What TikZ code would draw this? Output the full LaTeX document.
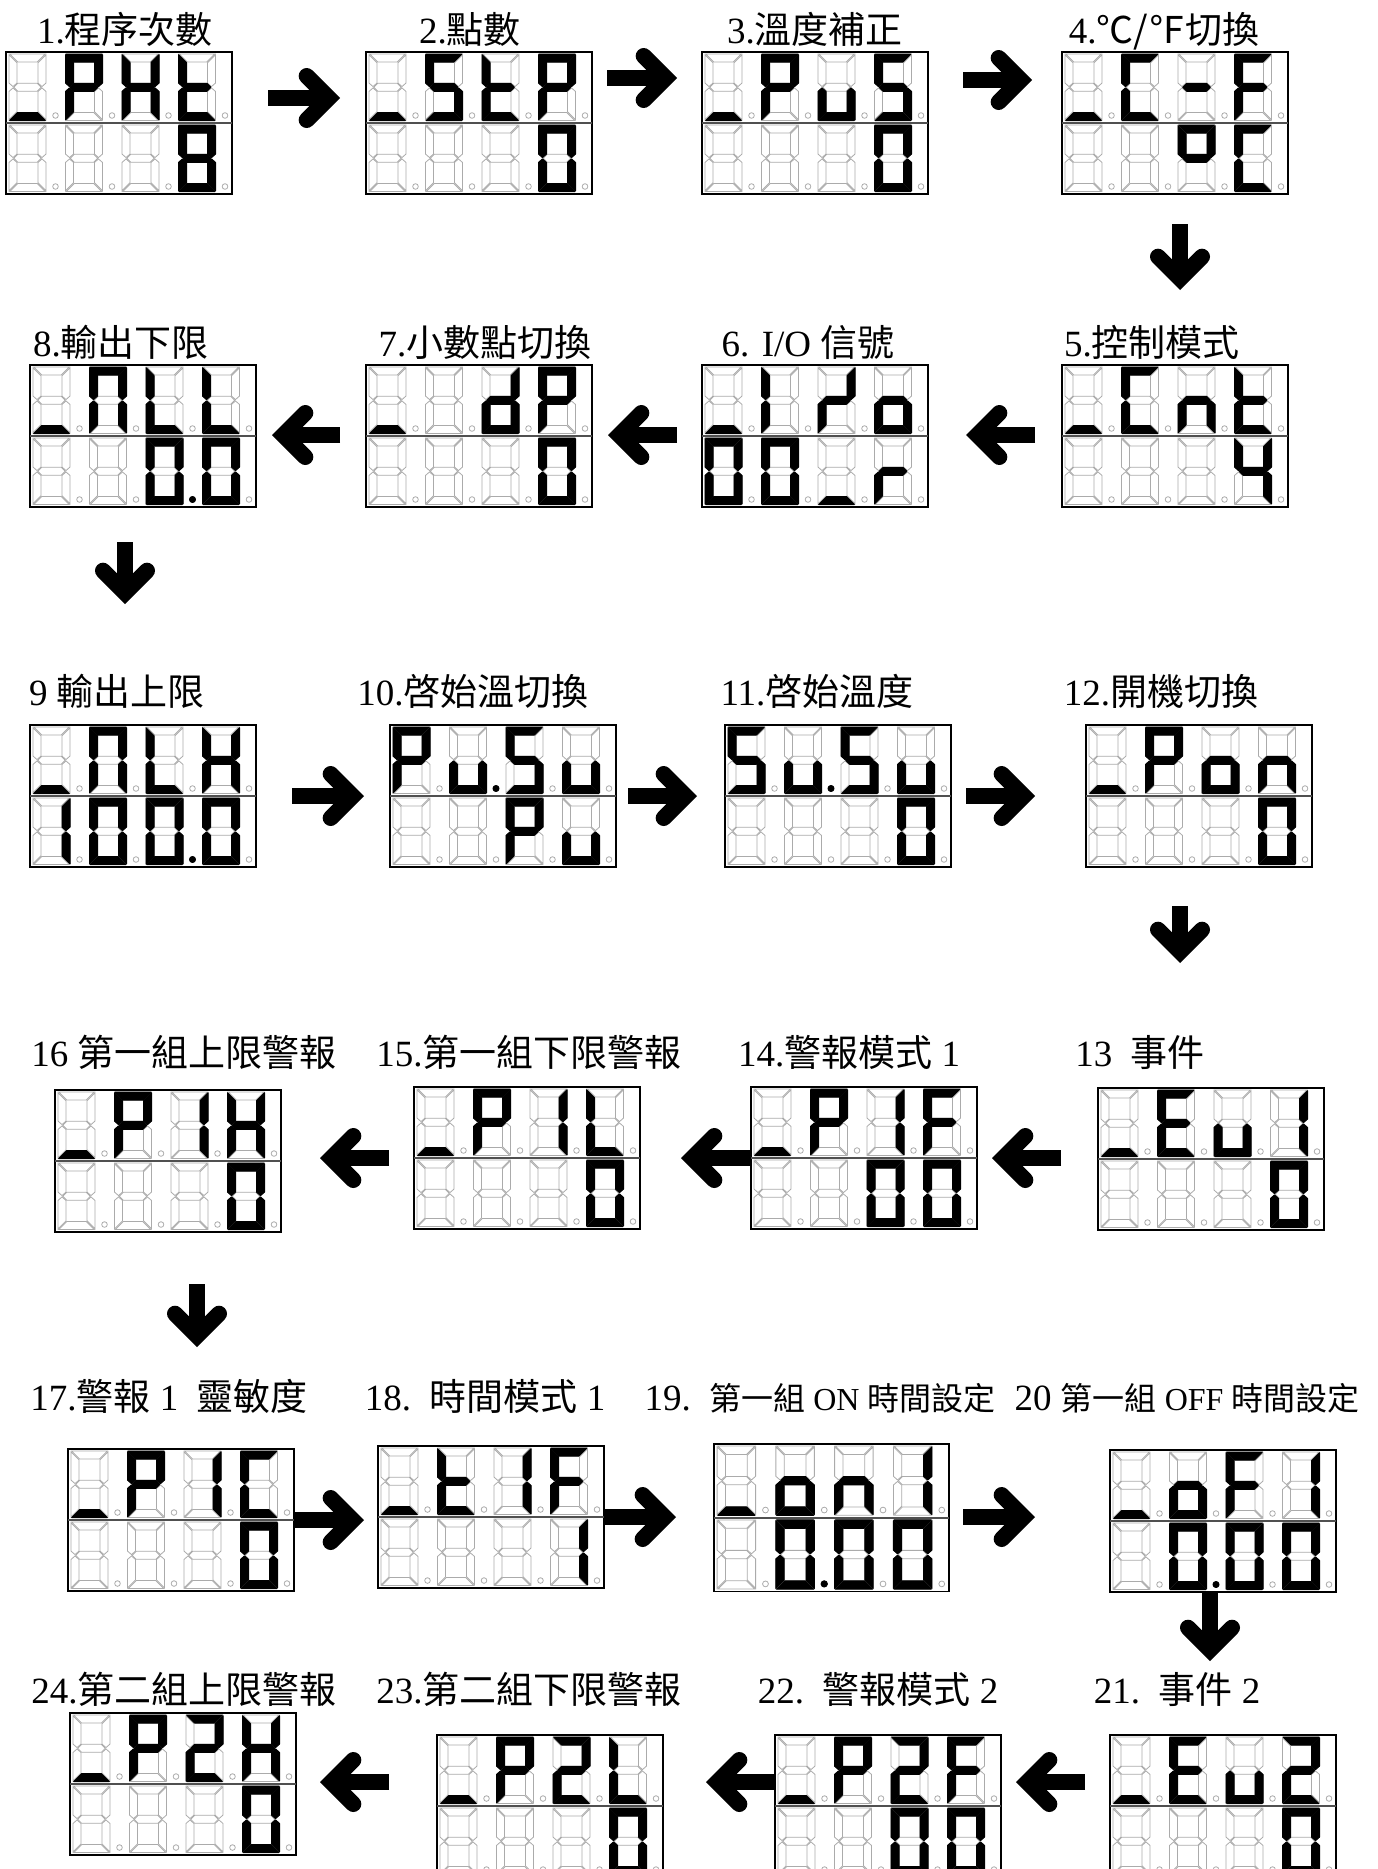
\documentclass[tikz,border=0pt]{standalone}
\usepackage{fontspec}
\setmainfont{Liberation Serif}
\newfontfamily\cjk{Noto Sans CJK TC}
\usepackage{tikz}
\usetikzlibrary{arrows.meta, positioning}
\definecolor{lcdGray}{HTML}{ABABAB}
\definecolor{lcdRule}{HTML}{505050}

% one digit cell is 56.5 x 71 units
\def\sega{(3.7,2) -- (39.3,2) -- (31.3,10) -- (11.7,10) -- cycle}
\def\segd{(3.7,68.5) -- (39.3,68.5) -- (31.3,60.5) -- (11.7,60.5) -- cycle}
\def\segg{(7.7,35.25) -- (11.7,31.25) -- (31.3,31.25) -- (35.3,35.25) -- (31.3,39.25) -- (11.7,39.25) -- cycle}
\def\segf{(3,2.7) -- (11,10.7) -- (11,31.05) -- (7,34.55) -- (3,31.05) -- cycle}
\def\sege{(3,67.8) -- (11,59.8) -- (11,39.45) -- (7,35.95) -- (3,39.45) -- cycle}
\def\segb{(40,2.7) -- (32,10.7) -- (32,31.05) -- (36,34.55) -- (40,31.05) -- cycle}
\def\segc{(40,67.8) -- (32,59.8) -- (32,39.45) -- (36,35.95) -- (40,39.45) -- cycle}
\def\segp{(49.5,63.5) circle (3)}
\def\segx{}

% lit segments per character
\def\dgB{x}
\def\dgUnd{d}
\def\dgP{a,b,e,f,g}
\def\dgZero{a,b,c,d,e,f}
\def\dgZeroDot{a,b,c,d,e,f,p}
\def\dgS{a,c,d,f,g}
\def\dgt{d,e,f,g}
\def\dgu{c,d,e}
\def\dguDot{c,d,e,p}
\def\dgC{a,d,e,f}
\def\dgF{a,e,f,g}
\def\dgE{a,d,e,f,g}
\def\dgH{b,c,e,f,g}
\def\dgL{d,e,f}
\def\dgN{a,b,c,e,f}
\def\dgn{c,e,g}
\def\dgo{c,d,e,g}
\def\dgr{e,g}
\def\dgd{b,c,d,e,g}
\def\dgI{e,f}
\def\dgZed{b,e,g}
\def\dgDash{g}
\def\dgDeg{a,b,f,g}
\def\dgOne{b,c}
\def\dgTwo{a,b,d,e,g}
\def\dgFour{b,c,f,g}
\def\dgEight{a,b,c,d,e,f,g}

\newcommand\lcddigit[3]{%
  \begin{scope}[shift={(#1,#2)}]
    \foreach \s in {a,b,c,d,e,f,g}{\expandafter\let\expandafter\segcur\csname seg\s\endcsname
      \draw[segoff] \segcur;}
    \draw[segoff] (49.5,63.5) circle (2.8);
    \foreach \s in #3 {\expandafter\let\expandafter\segcur\csname seg\s\endcsname
      \filldraw[segon] \segcur;}
  \end{scope}}
\newcommand\lcdpanel[4][1]{%
  \def\lcdscale{#1}%
  \node[panel, minimum width=#1*113pt, minimum height=#1*71pt] (#2) at (#3,#4) {};
  \draw[divider] (#2.west) -- (#2.east);}
\newcommand\lcdrow[6]{%
  \begin{scope}[shift={(#1.north west)}, scale=\lcdscale]
    \lcddigit{0}{#2*71}{#3}\lcddigit{56.5}{#2*71}{#4}%
    \lcddigit{113}{#2*71}{#5}\lcddigit{169.5}{#2*71}{#6}
  \end{scope}}

\begin{document}
\begin{tikzpicture}[
  x=0.5pt, y=-0.5pt,
  panel/.style={draw, line width=0.75pt, anchor=north west, inner sep=0pt, outer sep=0pt},
  divider/.style={draw=lcdRule, line width=1.2pt},
  segoff/.style={draw=lcdGray, line width=0.4pt},
  segon/.style={fill=black, draw=black, line width=0.5pt, line join=round},
  caption/.style={font=\fontsize{18.5}{22}\selectfont, anchor=base, inner sep=0pt},
  fatarrow/.style={line width=8pt,
    -{Straight Barb[length=11pt, width=22pt, line cap=round, line join=miter]}},
]
  \useasboundingbox (0,0) rectangle (1377,1869);
  \clip (0,0) rectangle (1377,1869);

  % row 1
  \lcdpanel{p1}{6}{52}
  \lcdrow{p1}{0}{\dgUnd}{\dgP}{\dgH}{\dgt}
  \lcdrow{p1}{1}{\dgB}{\dgB}{\dgB}{\dgEight}
  \lcdpanel{p2}{366}{52}
  \lcdrow{p2}{0}{\dgUnd}{\dgS}{\dgt}{\dgP}
  \lcdrow{p2}{1}{\dgB}{\dgB}{\dgB}{\dgZero}
  \lcdpanel{p3}{702}{52}
  \lcdrow{p3}{0}{\dgUnd}{\dgP}{\dgu}{\dgS}
  \lcdrow{p3}{1}{\dgB}{\dgB}{\dgB}{\dgZero}
  \lcdpanel{p4}{1062}{52}
  \lcdrow{p4}{0}{\dgUnd}{\dgC}{\dgDash}{\dgF}
  \lcdrow{p4}{1}{\dgB}{\dgB}{\dgDeg}{\dgC}

  % row 2
  \lcdpanel{p8}{30}{365}
  \lcdrow{p8}{0}{\dgUnd}{\dgN}{\dgL}{\dgL}
  \lcdrow{p8}{1}{\dgB}{\dgB}{\dgZeroDot}{\dgZero}
  \lcdpanel{p7}{366}{365}
  \lcdrow{p7}{0}{\dgUnd}{\dgB}{\dgd}{\dgP}
  \lcdrow{p7}{1}{\dgB}{\dgB}{\dgB}{\dgZero}
  \lcdpanel{p6}{702}{365}
  \lcdrow{p6}{0}{\dgUnd}{\dgI}{\dgZed}{\dgo}
  \lcdrow{p6}{1}{\dgZero}{\dgZero}{\dgUnd}{\dgr}
  \lcdpanel{p5}{1062}{365}
  \lcdrow{p5}{0}{\dgUnd}{\dgC}{\dgn}{\dgt}
  \lcdrow{p5}{1}{\dgB}{\dgB}{\dgB}{\dgFour}

  % row 3
  \lcdpanel{p9}{30}{725}
  \lcdrow{p9}{0}{\dgUnd}{\dgN}{\dgL}{\dgH}
  \lcdrow{p9}{1}{\dgOne}{\dgZero}{\dgZeroDot}{\dgZero}
  \lcdpanel{p10}{390}{725}
  \lcdrow{p10}{0}{\dgP}{\dguDot}{\dgS}{\dgu}
  \lcdrow{p10}{1}{\dgB}{\dgB}{\dgP}{\dgu}
  \lcdpanel{p11}{725}{725}
  \lcdrow{p11}{0}{\dgS}{\dguDot}{\dgS}{\dgu}
  \lcdrow{p11}{1}{\dgB}{\dgB}{\dgB}{\dgZero}
  \lcdpanel{p12}{1086}{725}
  \lcdrow{p12}{0}{\dgUnd}{\dgP}{\dgo}{\dgn}
  \lcdrow{p12}{1}{\dgB}{\dgB}{\dgB}{\dgZero}

  % row 4
  \lcdpanel{p16}{55}{1090}
  \lcdrow{p16}{0}{\dgUnd}{\dgP}{\dgOne}{\dgH}
  \lcdrow{p16}{1}{\dgB}{\dgB}{\dgB}{\dgZero}
  \lcdpanel{p15}{414}{1087}
  \lcdrow{p15}{0}{\dgUnd}{\dgP}{\dgOne}{\dgL}
  \lcdrow{p15}{1}{\dgB}{\dgB}{\dgB}{\dgZero}
  \lcdpanel{p14}{751}{1087}
  \lcdrow{p14}{0}{\dgUnd}{\dgP}{\dgOne}{\dgF}
  \lcdrow{p14}{1}{\dgB}{\dgB}{\dgZero}{\dgZero}
  \lcdpanel{p13}{1098}{1088}
  \lcdrow{p13}{0}{\dgUnd}{\dgE}{\dgu}{\dgOne}
  \lcdrow{p13}{1}{\dgB}{\dgB}{\dgB}{\dgZero}

  % row 5
  \lcdpanel{p17}{68}{1449}
  \lcdrow{p17}{0}{\dgUnd}{\dgP}{\dgOne}{\dgC}
  \lcdrow{p17}{1}{\dgB}{\dgB}{\dgB}{\dgZero}
  \lcdpanel{p18}{378}{1446}
  \lcdrow{p18}{0}{\dgUnd}{\dgt}{\dgOne}{\dgF}
  \lcdrow{p18}{1}{\dgB}{\dgB}{\dgB}{\dgOne}
  \lcdpanel[1.04]{p19}{714}{1444}
  \lcdrow{p19}{0}{\dgUnd}{\dgo}{\dgn}{\dgOne}
  \lcdrow{p19}{1}{\dgB}{\dgZeroDot}{\dgZero}{\dgZero}
  \lcdpanel{p20}{1110}{1450}
  \lcdrow{p20}{0}{\dgUnd}{\dgo}{\dgF}{\dgOne}
  \lcdrow{p20}{1}{\dgB}{\dgZeroDot}{\dgZero}{\dgZero}

  % row 6
  \lcdpanel{p24}{70}{1713}
  \lcdrow{p24}{0}{\dgUnd}{\dgP}{\dgTwo}{\dgH}
  \lcdrow{p24}{1}{\dgB}{\dgB}{\dgB}{\dgZero}
  \lcdpanel{p23}{437}{1735}
  \lcdrow{p23}{0}{\dgUnd}{\dgP}{\dgTwo}{\dgL}
  \lcdrow{p23}{1}{\dgB}{\dgB}{\dgB}{\dgZero}
  \lcdpanel{p22}{775}{1735}
  \lcdrow{p22}{0}{\dgUnd}{\dgP}{\dgTwo}{\dgF}
  \lcdrow{p22}{1}{\dgB}{\dgB}{\dgZero}{\dgZero}
  \lcdpanel{p21}{1110}{1735}
  \lcdrow{p21}{0}{\dgUnd}{\dgE}{\dgu}{\dgTwo}
  \lcdrow{p21}{1}{\dgB}{\dgB}{\dgB}{\dgZero}

  % captions
  \node[caption] (l1) at (125,43) {1.{\cjk 程序次數}};
  \node[caption] (l2) at (470,43) {2.{\cjk 點數}};
  \node[caption] (l3) at (815,43) {3.{\cjk 溫度補正}};
  \node[caption] (l4) at (1164,43) {4.{\cjk ℃/℉切換}};
  \node[caption] (l8) at (121,356) {8.{\cjk 輸出下限}};
  \node[caption] (l7) at (485,356) {7.{\cjk 小數點切換}};
  \node[caption] (l6) at (808,356) {6. I/O {\cjk 信號}};
  \node[caption] (l5) at (1152,356) {5.{\cjk 控制模式}};
  \node[caption] (l9) at (117,705) {9 {\cjk 輸出上限}};
  \node[caption] (l10) at (473,705) {10.{\cjk 啓始溫切換}};
  \node[caption] (l11) at (817,705) {11.{\cjk 啓始溫度}};
  \node[caption] (l12) at (1161,705) {12.{\cjk 開機切換}};
  \node[caption] (l16) at (184,1066) {16 {\cjk 第一組上限警報}};
  \node[caption] (l15) at (529,1066) {15.{\cjk 第一組下限警報}};
  \node[caption] (l14) at (849,1066) {14.{\cjk 警報模式} 1};
  \node[caption] (l13) at (1140,1066) {13\ \ {\cjk 事件}};
  \node[caption] (l17) at (169,1410) {17.{\cjk 警報} 1\ \ {\cjk 靈敏度}};
  \node[caption] (l18) at (485,1410) {18.\ \ {\cjk 時間模式} 1};
  \node[caption] (l19) at (820,1410) {19.\ \ {\fontsize{16}{20}\selectfont\cjk 第一組}{\fontsize{16}{20}\selectfont\ ON }{\fontsize{16}{20}\selectfont\cjk 時間設定}};
  \node[caption] (l20) at (1187,1410) {20 {\fontsize{16}{20}\selectfont\cjk 第一組}{\fontsize{16}{20}\selectfont\ OFF }{\fontsize{16}{20}\selectfont\cjk 時間設定}};
  \node[caption] (l24) at (184,1703) {24.{\cjk 第二組上限警報}};
  \node[caption] (l23) at (529,1703) {23.{\cjk 第二組下限警報}};
  \node[caption] (l22) at (878,1703) {22.\ \ {\cjk 警報模式} 2};
  \node[caption] (l21) at (1177,1703) {21.\ \ {\cjk 事件} 2};

  % arrow ends
  \coordinate (t12) at (268,98);   \coordinate (h12) at (340,98);
  \coordinate (t23) at (607,78);   \coordinate (h23) at (677,78);
  \coordinate (t34) at (963,80);   \coordinate (h34) at (1032,80);
  \coordinate (t45) at (1180,224); \coordinate (h45) at (1180,290);
  \coordinate (t56) at (1035,435); \coordinate (h56) at (966,435);
  \coordinate (t67) at (677,435);  \coordinate (h67) at (608,435);
  \coordinate (t78) at (340,435);  \coordinate (h78) at (272,435);
  \coordinate (t89) at (125,542);  \coordinate (h89) at (125,604);
  \coordinate (h910) at (364,796);  \coordinate (t910) at (292,796);
  \coordinate (h1011) at (697,796); \coordinate (t1011) at (628,796);
  \coordinate (h1112) at (1035,796); \coordinate (t1112) at (966,796);
  \coordinate (t1213) at (1180,906); \coordinate (h1213) at (1180,963);
  \coordinate (t1314) at (1061,1158); \coordinate (h1314) at (992,1158);
  \coordinate (h1415) at (681,1158);
  \coordinate (t1516) at (389,1158); \coordinate (h1516) at (320,1158);
  \coordinate (t1617) at (197,1284); \coordinate (h1617) at (197,1347);
  \coordinate (h1718) at (364,1520);
  \coordinate (h1819) at (676,1517);
  \coordinate (t1920) at (963,1517); \coordinate (h1920) at (1035,1517);
  \coordinate (t2021) at (1210,1592); \coordinate (h2021) at (1210,1661);
  \coordinate (t2122) at (1085,1782); \coordinate (h2122) at (1016,1782);
  \coordinate (t2223) at (775,1782);  \coordinate (h2223) at (706,1782);
  \coordinate (t2324) at (389,1782); \coordinate (h2324) at (320,1782);

  % arrows
  \draw[fatarrow] (t12) -- (h12);
  \draw[fatarrow] (t23) -- (h23);
  \draw[fatarrow] (t34) -- (h34);
  \draw[fatarrow] (t45) -- (h45);
  \draw[fatarrow] (t56) -- (h56);
  \draw[fatarrow] (t67) -- (h67);
  \draw[fatarrow] (t78) -- (h78);
  \draw[fatarrow] (t89) -- (h89);
  \draw[fatarrow] (t910) -- (h910);
  \draw[fatarrow] (t1011) -- (h1011);
  \draw[fatarrow] (t1112) -- (h1112);
  \draw[fatarrow] (t1213) -- (h1213);
  \draw[fatarrow] (t1314) -- (h1314);
  \draw[fatarrow] (p14.west) -- (h1415);
  \draw[fatarrow] (t1516) -- (h1516);
  \draw[fatarrow] (t1617) -- (h1617);
  \draw[fatarrow] (p17.east) -- (h1718);
  \draw[fatarrow] (p18.east) -- (h1819);
  \draw[fatarrow] (t1920) -- (h1920);
  \draw[fatarrow] (t2021) -- (h2021);
  \draw[fatarrow] (t2122) -- (h2122);
  \draw[fatarrow] (t2223) -- (h2223);
  \draw[fatarrow] (t2324) -- (h2324);
\end{tikzpicture}
\end{document}
